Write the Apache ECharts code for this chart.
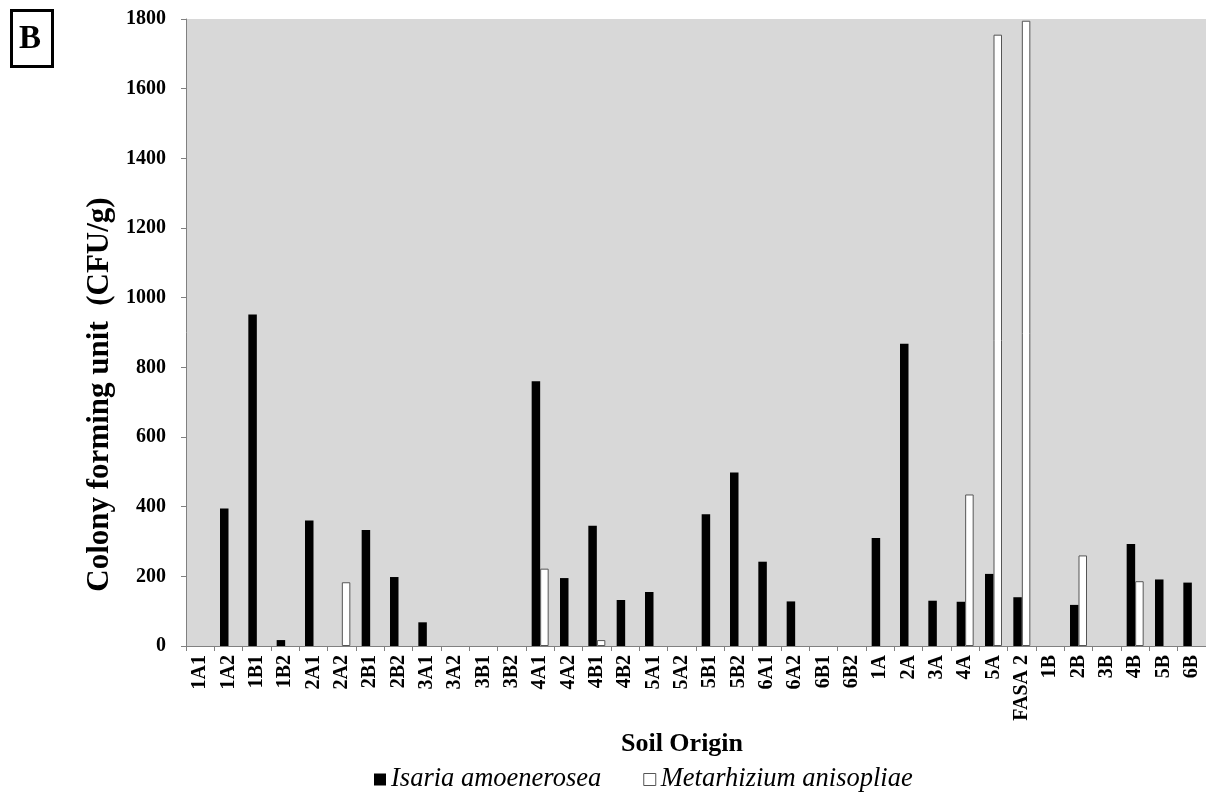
<!DOCTYPE html>
<html>
<head>
<meta charset="utf-8">
<script src="https://cdn.jsdelivr.net/npm/echarts@6/dist/echarts.min.js"></script>
<style>
html,body{margin:0;padding:0;background:#fff;}
#chart{width:1206px;height:794px;}
</style>
</head>
<body>
<div id="chart"></div>
<script>
const categories = ['1A1','1A2','1B1','1B2','2A1','2A2','2B1','2B2','3A1','3A2','3B1','3B2','4A1','4A2','4B1','4B2','5A1','5A2','5B1','5B2','6A1','6A2','6B1','6B2','1A','2A','3A','4A','5A','FASA 2','1B','2B','3B','4B','5B','6B'];
const isaria = [0,395,952,17,360,0,333,198,68,0,0,0,760,195,345,132,155,0,378,498,242,128,0,0,310,868,130,127,207,140,0,118,0,293,191,182];
const metarhizium = [0,0,0,0,0,183,0,0,0,0,0,0,222,0,17,0,0,0,0,0,0,0,0,0,0,0,0,435,1755,1795,0,260,0,186,0,0];
const yTicks = {min: 0, max: 1800, interval: 200};
const seriesNames = ['Isaria amoenerosea', 'Metarhizium anisopliae'];

// zero values are drawn as no bar at all
const asBars = arr => arr.map(v => (v === 0 ? null : v));

const serif = '"Liberation Serif", "Times New Roman", serif';
const chart = echarts.init(document.getElementById('chart'), null, {renderer: 'canvas'});
chart.setOption({
  animation: false,
  backgroundColor: '#ffffff',
  grid: {left: 186, right: -8.5, top: 19, bottom: 148, show: true, backgroundColor: '#d8d8d8', borderWidth: 0},
  legend: {
    left: 369, top: 761, itemWidth: 12, itemHeight: 12, itemGap: 42,
    textStyle: {fontFamily: serif, fontStyle: 'italic', fontSize: 26.5, color: '#000'},
    data: [
      {name: seriesNames[0], icon: 'rect', itemStyle: {color: '#000', borderWidth: 0}},
      {name: seriesNames[1], icon: 'rect', itemStyle: {color: '#fff', borderColor: '#555', borderWidth: 1}}
    ]
  },
  xAxis: {
    type: 'category', data: categories,
    name: 'Soil Origin', nameLocation: 'middle', nameGap: 85,
    nameTextStyle: {fontFamily: serif, fontWeight: 'bold', fontSize: 26, color: '#000', padding: [0, 28, 0, 0]},
    axisLine: {lineStyle: {color: '#808080', width: 1}},
    axisTick: {show: true, alignWithLabel: false, interval: 0, length: 5, lineStyle: {color: '#808080'}},
    axisLabel: {interval: 0, rotate: 90, margin: 9, fontFamily: serif, fontWeight: 'bold', fontSize: 20, color: '#000'},
    splitLine: {show: false}
  },
  yAxis: {
    type: 'value', min: yTicks.min, max: yTicks.max, interval: yTicks.interval,
    name: 'Colony forming unit  (CFU/g)', nameLocation: 'middle', nameGap: 64,
    nameTextStyle: {fontFamily: serif, fontWeight: 'bold', fontSize: 31, color: '#000', padding: [0, 124, 0, 0]},
    axisLine: {show: true, lineStyle: {color: '#808080', width: 1}},
    axisTick: {show: true, length: 5, lineStyle: {color: '#808080'}},
    axisLabel: {margin: 20, fontFamily: serif, fontWeight: 'bold', fontSize: 20, color: '#000',
                formatter: v => String(v)},
    splitLine: {show: false}
  },
  series: [
    {name: seriesNames[0], type: 'bar', data: asBars(isaria), barGap: '0%', barCategoryGap: '40%',
     itemStyle: {color: '#000'}},
    {name: seriesNames[1], type: 'bar', data: asBars(metarhizium), barGap: '0%', barCategoryGap: '40%',
     itemStyle: {color: '#fff', borderColor: '#555', borderWidth: 1}}
  ],
  graphic: [
    {type: 'rect', left: 10, top: 9, shape: {width: 41, height: 56},
     style: {fill: '#fff', stroke: '#000', lineWidth: 3}},
    {type: 'text', left: 19, top: 23,
     style: {text: 'B', font: 'bold 33px ' + serif, fill: '#000'}}
  ]
});
</script>
</body>
</html>
